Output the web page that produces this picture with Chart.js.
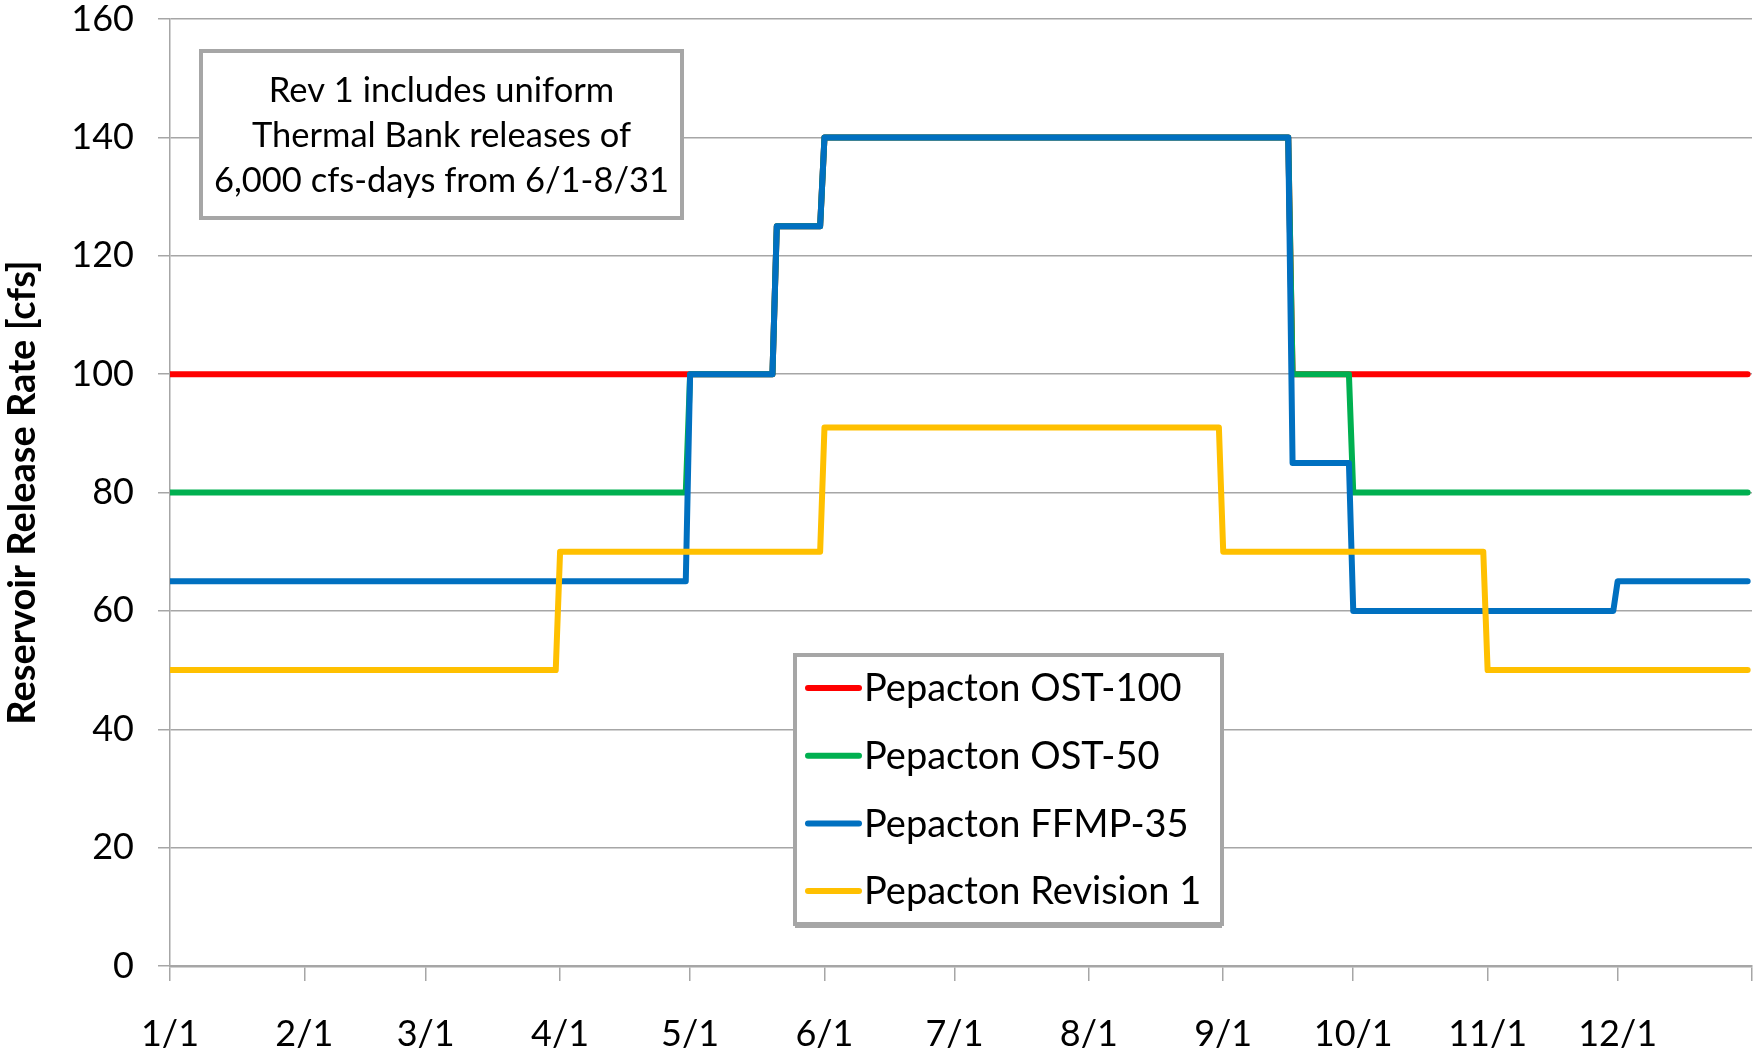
<!DOCTYPE html>
<html>
<head>
<meta charset="utf-8">
<script src="https://cdn.jsdelivr.net/npm/chart.js@4.4.1/dist/chart.umd.min.js"></script>
<style>
  body { margin: 0; background: #fff; }
  #wrap { width: 1754px; height: 1058px; }
</style>
</head>
<body>
<div id="wrap"><canvas id="chart" width="1754" height="1058"></canvas></div>
<script>
// day of year (0 = 1/1) where each month starts, and the tick labels
const monthStarts = [0, 31, 59, 90, 120, 151, 181, 212, 243, 273, 304, 334, 365];
const monthLabels = ['1/1', '2/1', '3/1', '4/1', '5/1', '6/1', '7/1', '8/1', '9/1', '10/1', '11/1', '12/1', ''];
const yTicks = [0, 20, 40, 60, 80, 100, 120, 140, 160];

// step schedules: day of year -> release (cfs)
const ost100Days = [0, 119, 120, 139, 140, 150, 151, 258, 259, 364];
const ost100Vals = [100, 100, 100, 100, 125, 125, 140, 140, 100, 100];

const ost50Days = [0, 119, 120, 139, 140, 150, 151, 258, 259, 272, 273, 364];
const ost50Vals = [80, 80, 100, 100, 125, 125, 140, 140, 100, 100, 80, 80];

const ffmpDays = [0, 119, 120, 139, 140, 150, 151, 258, 259, 272, 273, 333, 334, 364];
const ffmpVals = [65, 65, 100, 100, 125, 125, 140, 140, 85, 85, 60, 60, 65, 65];

const rev1Days = [0, 89, 90, 150, 151, 242, 243, 303, 304, 364];
const rev1Vals = [50, 50, 70, 70, 91, 91, 70, 70, 50, 50];

const noteLines = ['Rev 1 includes uniform', 'Thermal Bank releases of', '6,000 cfs-days from 6/1-8/31'];

const FONT = 'Lato, "Open Sans", sans-serif';
const GRID = '#a6a6a6';

function pts(days, vals) {
  return days.map((d, i) => ({ x: d, y: vals[i] }));
}

function series(label, days, vals, color, order) {
  return {
    label: label,
    data: pts(days, vals),
    borderColor: color,
    backgroundColor: color,
    borderWidth: 6,
    pointRadius: 0,
    tension: 0,
    borderCapStyle: 'round',
    borderJoinStyle: 'round',
    order: order
  };
}

// note box + legend box, drawn over the plot
const boxes = {
  id: 'boxes',
  afterDraw(chart) {
    const c = chart.ctx;
    c.save();

    // note box
    c.fillStyle = '#fff';
    c.fillRect(201, 51, 481, 167);
    c.strokeStyle = GRID;
    c.lineWidth = 4;
    c.strokeRect(201, 51, 481, 167);
    c.fillStyle = '#000';
    c.font = '34.5px ' + FONT;
    c.textAlign = 'center';
    c.textBaseline = 'middle';
    noteLines.forEach((t, i) => c.fillText(t, 441.5, 91 + i * 45));

    // legend box with a bit of shadow on the bottom
    c.fillStyle = GRID;
    c.fillRect(795, 658, 427, 270);
    c.fillStyle = '#fff';
    c.fillRect(795, 655, 427, 269);
    c.strokeStyle = GRID;
    c.lineWidth = 4;
    c.strokeRect(795, 655, 427, 269);
    c.font = '38px ' + FONT;
    c.textAlign = 'left';
    chart.data.datasets.forEach((ds, i) => {
      const y = 688 + i * 67.7;
      c.strokeStyle = ds.borderColor;
      c.lineWidth = 6;
      c.lineCap = 'round';
      c.beginPath();
      c.moveTo(808, y);
      c.lineTo(859, y);
      c.stroke();
      c.fillStyle = '#000';
      c.fillText(ds.label, 864, y + 1);
    });
    c.restore();
  }
};

new Chart(document.getElementById('chart'), {
  type: 'line',
  data: {
    datasets: [
      series('Pepacton OST-100', ost100Days, ost100Vals, '#ff0000', 4),
      series('Pepacton OST-50', ost50Days, ost50Vals, '#00b050', 3),
      series('Pepacton FFMP-35', ffmpDays, ffmpVals, '#0070c0', 2),
      series('Pepacton Revision 1', rev1Days, rev1Vals, '#ffc000', 1)
    ]
  },
  options: {
    responsive: false,
    animation: false,
    layout: { padding: { top: 19, right: 2, left: 0, bottom: 0 } },
    plugins: {
      legend: { display: false },
      tooltip: { enabled: false }
    },
    scales: {
      x: {
        type: 'linear',
        min: 0,
        max: 365,
        afterBuildTicks: s => { s.ticks = monthStarts.map(v => ({ value: v })); },
        afterFit: s => { s.height = 92; s.paddingLeft = 0; s.paddingRight = 0; },
        ticks: {
          autoSkip: false,
          maxRotation: 0,
          padding: 32,
          color: '#000',
          font: { family: FONT, size: 36 },
          callback: (v, i) => monthLabels[i]
        },
        grid: { drawOnChartArea: false, drawTicks: true, tickLength: 15, color: GRID, lineWidth: 1.5 },
        border: { color: GRID, width: 2.5 }
      },
      y: {
        min: 0,
        max: 160,
        afterBuildTicks: s => { s.ticks = yTicks.map(v => ({ value: v })); },
        afterFit: s => { s.width = 170; s.paddingTop = 0; s.paddingBottom = 0; },
        ticks: {
          padding: 24,
          color: '#000',
          font: { family: FONT, size: 36 }
        },
        grid: { color: GRID, lineWidth: 1.5, tickLength: 12 },
        border: { color: GRID, width: 1.5 },
        title: {
          display: true,
          text: 'Reservoir Release Rate [cfs]',
          color: '#000',
          font: { family: FONT, size: 38, weight: 'bold' },
          padding: { top: 0, bottom: 0 }
        }
      }
    }
  },
  plugins: [boxes]
});
</script>
</body>
</html>
